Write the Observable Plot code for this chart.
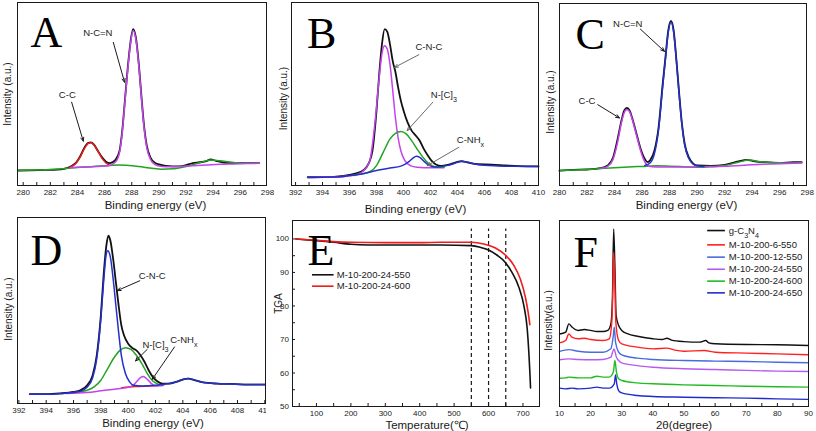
<!DOCTYPE html>
<html>
<head>
<meta charset="utf-8">
<script src="https://cdn.jsdelivr.net/npm/d3@7"></script>
<script src="https://cdn.jsdelivr.net/npm/@observablehq/plot@0.6"></script>
<style>
  html, body { margin: 0; padding: 0; background: white; }
  #fig { position: relative; width: 816px; height: 431px; overflow: hidden; background: white; }
  #fig svg { position: absolute; }
</style>
</head>
<body>
<div id="fig"></div>
<script>
// ---------------- DATA ----------------
// Panel A: C 1s XPS (x: binding energy eV, y: relative intensity 0-100 of frame)
const aRaw = [[279.6,8.2],[280.5,8.3],[281.5,8.5],[282.5,8.7],[283.0,9.1],[283.5,10.4],[283.9,12.5],[284.2,16],[284.5,20.5],[284.8,23.3],[285.0,23.6],[285.2,22.5],[285.5,19],[285.8,15.5],[286.1,13],[286.4,12.2],[286.8,14],[287.1,19],[287.3,30],[287.5,47],[287.7,64],[287.9,78],[288.1,85.5],[288.3,81],[288.5,68],[288.7,50],[288.9,33],[289.1,22],[289.4,15],[289.7,12.5],[290.0,11.5],[290.5,10.7],[291.0,10.5],[291.5,10.5],[292.0,11.1],[292.5,12.2],[293.0,12.7],[293.5,13.3],[293.8,14.2],[294.2,13.5],[294.8,12.5],[295.5,12.2],[296.5,12.4],[297.4,12.2]];
const aFitNCN = [[283.5,9.9],[284.5,10.1],[285.5,10.4],[286.3,10.8],[286.8,12.8],[287.1,18],[287.3,29],[287.5,46],[287.7,63],[287.9,77],[288.1,84.5],[288.3,80],[288.5,67],[288.7,49],[288.9,32],[289.1,21],[289.4,14],[289.7,11.5],[290.0,10.6],[290.5,10.2],[291.5,10.4],[292.5,10.8],[293.5,11.2],[294.5,11.6],[295.5,11.8],[296.5,12],[297.4,12.1]];
const aFitCC = [[283.4,9.7],[283.8,11.5],[284.2,15.5],[284.5,20],[284.8,23],[285.0,23.4],[285.2,22.3],[285.5,18.8],[285.8,15],[286.1,12.3],[286.4,11]];
const aBase = [[279.6,8.2],[281,8.5],[283,9.2],[284,9.8],[285,10.3],[286,10.8],[287,11.2],[287.6,11],[288.5,10.4],[289.5,9.4],[290.2,8.9],[291,9.1],[292,10.4],[293,12.4],[293.8,14],[294.5,13.5],[295.5,12.6],[296.5,12.3],[297.4,12.2]];
const aLabels = [{t:"C-C", x:283.25, y:49.5}, {t:"N-C=N", x:285.5, y:83.3}];
const aArrows = [{x1:283.57,y1:45.5,x2:284.43,y2:24.2}, {x1:286.64,y1:78.2,x2:287.47,y2:56.4}];

// Panel B: N 1s XPS
const bRaw = [[392.9,4.5],[394,4.6],[395,4.9],[396,5.8],[396.5,6.6],[397.0,8.2],[397.4,11.8],[397.7,19],[398.0,41],[398.2,61],[398.4,77],[398.6,85.5],[398.8,84],[399.0,77],[399.2,68],[399.4,62],[399.6,53.6],[399.8,46.4],[400.0,41],[400.3,34.5],[400.6,30],[400.9,27.3],[401.2,24.5],[401.5,20],[401.8,16.4],[402.1,13.3],[402.4,11.5],[402.8,10.7],[403.3,11.3],[403.8,12.4],[404.3,13.3],[404.8,12.5],[405.5,11.6],[406.5,11.4],[407.5,11],[408.5,10.6],[410,10.4]];
const bCNC = [[392.9,4.4],[395,4.6],[396,5.3],[396.5,6],[397.0,7.8],[397.5,13.6],[397.9,35.5],[398.2,59],[398.4,72],[398.6,76.4],[398.8,74.5],[399.0,66],[399.2,52],[399.4,37],[399.6,26],[399.8,19],[400.1,13.6],[400.5,10.9],[401,10],[402,9.7],[403,9.7]];
const bNC3 = [[396.3,5.5],[397.0,6.5],[397.5,7.5],[398,10.9],[398.5,18.2],[399,25.5],[399.4,28.5],[399.8,29.5],[400.2,28.2],[400.6,24.5],[401,20],[401.4,15.8],[401.8,12.4],[402.2,10.5],[402.6,10],[403,10]];
const bCNH = [[392.9,4.5],[395,4.7],[396,5.4],[397,6.4],[398,8.2],[399,9.6],[399.8,10.6],[400.1,11.5],[400.4,13],[400.7,15],[400.95,16],[401.2,15.4],[401.5,13.3],[401.9,11],[402.3,10.1],[402.8,10.4],[403.3,11],[403.8,12.2],[404.3,13.1],[404.7,12.8],[405.2,11.9],[406,11],[407,10.7],[408,10.5],[410,10.4]];
const bLabels = [{t:"C-N-C", x:401.88, y:75.5}, {t:"N-[C]_3", x:402.99, y:49.5}, {t:"C-NH_x", x:404.96, y:25.1}];
const bArrows = [{x1:401.14,y1:71.5,x2:399.33,y2:64.5}, {x1:402.17,y1:45.5,x2:400.27,y2:30}, {x1:404.1,y1:20.9,x2:401.75,y2:10.8}];

// Panel C: C 1s XPS
const cRaw = [[280,8.2],[281,8.6],[282,8.8],[283,9.5],[283.5,11],[283.9,15.5],[284.2,24.7],[284.5,35.6],[284.7,41.1],[284.9,42.6],[285.1,41.1],[285.3,36.6],[285.6,28.3],[285.9,20.1],[286.2,14.6],[286.4,12.8],[286.6,14],[286.9,19.2],[287.2,32],[287.5,55.8],[287.7,70.4],[287.9,85],[288.1,90.5],[288.3,85],[288.5,68.6],[288.7,50.3],[288.9,33.8],[289.1,22.9],[289.4,15.5],[289.7,12.2],[290,11],[291,10.8],[292,11.3],[293,13.2],[293.6,14.1],[294.2,13.3],[295,12.8],[296,12.4],[297,12.8],[297.6,12.8]];
const cCC = [[283.0,9.3],[283.5,10.5],[283.9,14.5],[284.2,23],[284.5,34.5],[284.7,40],[284.9,41.8],[285.1,40.5],[285.3,36],[285.6,27.5],[285.9,19],[286.2,13],[286.5,10.6],[287,10.2],[288,10.1],[289,10.1],[290,10.3],[292,10.6],[294,11.4],[296,12],[297.6,12.3]];
const cNCN = [[286.2,11],[286.6,12.5],[286.9,17.5],[287.2,30.5],[287.5,54.5],[287.7,69.5],[287.9,84],[288.1,89.7],[288.3,84],[288.5,68],[288.7,49.5],[288.9,33],[289.1,22],[289.4,14.8],[289.7,11.8],[290,10.8],[290.5,10.4]];
const cBase = [[280,8.2],[282,8.8],[283,9.3],[284,9.8],[285,10.2],[286,10.5],[287,10.8],[288,10.6],[289,10.3],[290,10.0],[291,10.3],[292,11],[293,12.8],[293.8,14],[294.6,13.1],[295.5,12.6],[296.5,12.4],[297.6,12.5]];
const cLabels = [{t:"N-C=N", x:284.96, y:88.7}, {t:"C-C", x:282.0, y:46.6}];
const cArrows = [{x1:285.88,y1:85.9,x2:287.63,y2:73.7}, {x1:282.78,y1:44.4,x2:284.36,y2:37.1}];

// Panel D: N 1s XPS
const dRaw = [[392.8,5],[394,5],[395,5.4],[396,6.2],[396.5,7.1],[397,9.8],[397.4,15.2],[397.7,25.9],[398.0,47.3],[398.2,68.8],[398.4,84.8],[398.55,90.2],[398.7,87.5],[398.9,77.7],[399.1,65.2],[399.3,52.7],[399.5,42],[399.7,36.6],[400.0,32.1],[400.3,29.8],[400.6,28.6],[400.9,25.9],[401.2,22.3],[401.5,17.9],[401.8,14.3],[402.1,12.1],[402.5,10.7],[403,10.7],[403.5,11.6],[404,12.9],[404.4,13.4],[404.8,12.7],[405.5,11.3],[406.5,10.7],[407.5,10.5],[408.5,10.2],[410,10.2]];
const dCNC = [[392.8,5],[394,5],[395,5.3],[396,5.9],[396.5,6.6],[397,8.9],[397.4,13.8],[397.7,24.1],[398.0,45.5],[398.2,65.2],[398.4,80.4],[398.5,82.1],[398.7,78.6],[398.9,67],[399.1,52.7],[399.3,38.4],[399.5,25.9],[399.8,16.1],[400.1,11.6],[400.4,9.8],[401,9.4],[401.5,9.6],[402,9.8],[402.5,10.2],[403,10.7],[403.5,11.6],[404,12.9],[404.4,13.4],[404.8,12.7],[405.5,11.3],[406.5,10.7],[407.5,10.5],[408.5,10.2],[410,10.2]];
const dNC3 = [[396,5.9],[397,7.1],[397.5,8.9],[398,12.5],[398.5,18.8],[399,25],[399.4,28.6],[399.8,30],[400.2,29.1],[400.6,25.9],[401,21.4],[401.4,16.1],[401.8,12.1],[402.2,10.4],[402.6,9.8]];
const dCNH = [[395.5,5.4],[397,5.9],[398,6.8],[399,7.7],[399.8,8.4],[400.3,9.5],[400.6,11.6],[400.9,13.9],[401.1,14.5],[401.4,13],[401.7,10.7],[402,9.6],[402.5,9.5]];
const dRed = [[399.5,8.4],[400.5,9.1],[401.5,9.4],[402.2,9.6]];
const dLabels = [{t:"C-N-C", x:401.76, y:68.75}, {t:"N-[C]_3", x:402.0, y:31.25}, {t:"C-NH_x", x:404.07, y:33.9}];
const dArrows = [{x1:400.85,y1:66,x2:399.2,y2:60.7}, {x1:401.39,y1:29.1,x2:400.54,y2:22.9}, {x1:403.39,y1:30.4,x2:401.76,y2:13}];

// Panel E: TGA (x: temperature °C, y: TGA %)
const eSeriesNames = ["M-10-200-24-550", "M-10-200-24-600"];
const e550 = [[40,100],[100,99.5],[150,99],[200,98.4],[250,98.2],[300,98.2],[400,98.2],[460,98.2],[550,98],[576,97.5],[600,96.7],[624,95.2],[648.7,93],[668,90],[688,85.6],[702.6,80.1],[712.3,73.2],[717,66.2],[720,60.2],[722,55.5]];
const e600 = [[40,100],[100,99.6],[150,99.2],[200,99],[300,98.9],[400,98.9],[460,99],[550,99],[586,98.5],[620,97.3],[648.7,95.2],[673,92.2],[692,88.1],[707,82.6],[715,78.1],[720,74.4]];
const eMarkers = [550, 600, 650];
const eXTicks = [100, 200, 300, 400, 500, 600, 700];
const eYTicks = [50, 60, 70, 80, 90, 100];

// Panel F: XRD (x: 2θ degree, y: relative intensity, offset stack)
const fNames = ["g-C_3N_4", "M-10-200-6-550", "M-10-200-12-550", "M-10-200-24-550", "M-10-200-24-600", "M-10-200-24-650"];
const fG = [[10,39],[12,40],[13,44.4],[14,42.7],[16,40.9],[18,41.4],[20,40.9],[22,40.3],[24,40.3],[25.5,40.9],[26.5,44.4],[27.0,57.9],[27.4,95.5],[27.8,75.8],[28.2,48.9],[29,43.5],[30,40.9],[32,39],[35,37.8],[40,36.4],[43,36],[44.5,36.7],[46,35.7],[50,34.9],[55,34.6],[57,35.5],[58,34.2],[60,33.7],[70,33.3],[80,33.2],[90,32.8]];
const f6 = [[10,34.2],[12,35.5],[13,39],[14,37.3],[16,36.4],[18,36.7],[20,36],[24,35.5],[26,36.4],[26.8,45.3],[27.2,66.8],[27.4,83],[27.7,72.2],[28.1,45.3],[29,35.5],[30,33.7],[35,31.9],[40,31],[44.5,31.4],[47,30.3],[50,29.7],[56.5,30.1],[60,29.2],[70,28.7],[80,28.3],[90,27.8]];
const f12 = [[10,29.6],[13,30.6],[16,29.7],[20,29.2],[24,29.2],[26.5,31],[27.3,38.2],[27.6,42.7],[28,34.6],[29,29.2],[30,27.8],[35,26],[40,25.3],[50,24.7],[60,24.4],[70,24.2],[80,23.8],[90,23.5]];
const f24 = [[10,25.1],[13,25.6],[16,25.3],[20,25.1],[24,25.3],[26.5,26.5],[27.5,31],[28.3,26.5],[29,24.7],[30,23.5],[35,22],[40,21.1],[50,20.3],[60,19.9],[70,19.4],[80,19],[90,18.8]];
const f600 = [[10,15.2],[12,15.4],[13,15.8],[16,15.4],[20,15.4],[22,16.3],[24,15.8],[26,15.8],[27.3,18.5],[27.8,24.7],[28.3,18.5],[29,14.9],[30,14],[35,12.7],[40,12.2],[50,11.6],[60,11.3],[70,10.9],[80,10.6],[90,10.4]];
const f650 = [[10,9.9],[12,9.5],[14,9.9],[16,9.5],[20,9.9],[22,10.4],[24,9.9],[26,9.9],[27.6,12.2],[28,17],[28.4,12.2],[29,8.6],[30,7.3],[35,5.9],[40,5.4],[50,5],[60,4.7],[70,4.5],[80,4.1],[90,3.8]];
const fSeries = [fG, f6, f12, f24, f600, f650];
const fXTicks = [10, 20, 30, 40, 50, 60, 70, 80, 90];

const xpsTicks = d3.range(280, 299, 2);
const xpsTicksN = d3.range(392, 411, 2);

// ---------------- STYLE / LAYOUT ----------------
const FONT = "'Liberation Sans', Arial, Helvetica, sans-serif";
const SERIF = "'Liberation Serif', 'Times New Roman', serif";
const INK = "#1a1a1a";
const COL = {black:"#111111", magenta:"#c443ec", red:"#ee1c1c", green:"#22a322", blue:"#2430cc",
             fRed:"#ff2020", fLBlue:"#4a6be0", fViolet:"#b65af0", fGreen:"#22bb22", fDBlue:"#1f2ccc"};
const fColors = [COL.black, COL.fRed, COL.fLBlue, COL.fViolet, COL.fGreen, COL.fDBlue];

const fig = document.getElementById("fig");

function line(data, stroke, sw = 1.5) {
  return Plot.line(data, {x: d => d[0], y: d => d[1], stroke, strokeWidth: sw, curve: "monotone-x"});
}
function subs(svg) {
  svg.querySelectorAll("text, tspan").forEach(el => {
    if (el.children.length) return;
    const s = el.textContent;
    if (!s.includes("_")) return;
    el.textContent = "";
    const re = /_(\w)/g; let last = 0, m;
    while ((m = re.exec(s))) {
      el.appendChild(document.createTextNode(s.slice(last, m.index)));
      const ts = document.createElementNS("http://www.w3.org/2000/svg", "tspan");
      ts.setAttribute("baseline-shift", "sub");
      ts.setAttribute("font-size", "75%");
      ts.textContent = m[1];
      el.appendChild(ts);
      last = re.lastIndex;
    }
    el.appendChild(document.createTextNode(s.slice(last)));
  });
}

function panel(cfg) {
  const [mt, mr, mb, ml] = cfg.m;
  const pw = cfg.w - ml - mr, ph = cfg.h - mt - mb;
  const xd = cfg.xd, yd = cfg.yd;
  const tickLen = 3;
  const marks = [];
  marks.push(...cfg.marks);
  // inward ticks
  marks.push(Plot.ruleX(cfg.minorX, {x: d => d, y1: yd[0], y2: yd[0] + (yd[1] - yd[0]) * tickLen / ph, stroke: INK, strokeWidth: 1}));
  if (cfg.minorY) marks.push(Plot.ruleY(cfg.minorY, {y: d => d, x1: xd[0], x2: xd[0] + (xd[1] - xd[0]) * tickLen / pw, stroke: INK, strokeWidth: 1}));
  marks.push(Plot.frame({stroke: INK, strokeWidth: 1}));
  marks.push(Plot.axisX(cfg.xTicks, {tickSize: 0, tickPadding: 4, fontSize: 8, label: null, tickFormat: d => String(d), fill: INK}));
  if (cfg.yTicks) marks.push(Plot.axisY(cfg.yTicks, {tickSize: 0, tickPadding: 3.5, fontSize: 8, label: null, tickFormat: d => String(d), fill: INK}));
  // axis titles
  marks.push(Plot.text([cfg.xTitle], {frameAnchor: "bottom", dx: cfg.xt[0], dy: cfg.xt[1], lineAnchor: "middle", fontSize: 11.5, fill: INK}));
  marks.push(Plot.text([cfg.yTitle], {frameAnchor: "left", dx: cfg.yt[0], dy: cfg.yt[1], rotate: -90, lineAnchor: "middle", textAnchor: "middle", fontSize: 10, fill: INK}));
  // panel letter
  marks.push(Plot.text([cfg.letter], {frameAnchor: "top-left", dx: cfg.lt[0], dy: cfg.lt[1], textAnchor: "start", lineAnchor: "top", fontSize: 44, fontFamily: SERIF, fill: "#000"}));
  const svg = Plot.plot({
    width: cfg.w, height: cfg.h,
    marginTop: mt, marginRight: mr, marginBottom: mb, marginLeft: ml,
    x: {domain: xd, axis: null},
    y: {domain: yd, axis: null},
    style: {fontFamily: FONT, fontSize: "8px", background: cfg.bg || "transparent", overflow: "visible", color: INK},
    marks
  });
  svg.style.left = cfg.left + "px";
  svg.style.top = cfg.top + "px";
  subs(svg);
  fig.appendChild(svg);
}

function annot(labels, arrows, arrowColor) {
  return [
    Plot.arrow(arrows, {x1: "x1", y1: "y1", x2: "x2", y2: "y2", stroke: arrowColor, strokeWidth: 1, headLength: 6, headAngle: 45}),
    Plot.text(labels, {x: "x", y: "y", text: "t", fontSize: 9.5, fill: INK})
  ];
}

const BE = "Binding energy (eV)";
const INT = "Intensity (a.u.)";

// A
panel({left: 0, top: 0, w: 272, h: 215, m: [2, 6, 30, 17], xd: [279.58, 297.93], yd: [0, 100],
  marks: [line(aRaw, COL.black, 1.8), line(aBase, COL.green), line(aFitCC, COL.red), line(aFitNCN, COL.magenta), ...annot(aLabels, aArrows, INK)],
  minorX: d3.range(280, 298), xTicks: xpsTicks, xTitle: BE, xt: [13.5, 19.5], yTitle: INT, yt: [-9.5, 0], letter: "A", lt: [13, 13]});
// B
panel({left: 272, top: 0, w: 274, h: 215, m: [2, 8, 30, 19], xd: [391.7, 410], yd: [0, 100],
  marks: [line(bRaw, COL.black, 1.8), line(bCNC, COL.magenta), line(bNC3, COL.green), line(bCNH, COL.blue), ...annot(bLabels, bArrows, "#6a6a6a")],
  minorX: d3.range(392, 411), xTicks: xpsTicksN, xTitle: BE, xt: [0.5, 24], yTitle: INT, yt: [-8, 4.5], letter: "B", lt: [15.5, 14]});
// C
panel({left: 546, top: 0, w: 270, h: 215, m: [3, 10, 30, 13], xd: [280, 297.95], yd: [0, 100],
  marks: [line(cRaw, COL.black, 1.8), line(cBase, COL.green), line(cCC, COL.magenta), line(cNCN, COL.blue), ...annot(cLabels, cArrows, INK)],
  minorX: d3.range(280, 298), xTicks: xpsTicks, xTitle: BE, xt: [3.5, 19.5], yTitle: INT, yt: [-8.3, 7.5], letter: "C", lt: [16, 14]});
// D
panel({left: 0, top: 215, w: 266, h: 216, m: [2, 1, 28, 17], xd: [391.9, 410.05], yd: [0, 100],
  marks: [line(dRaw, COL.black, 1.8), line(dRed, COL.red), line(dNC3, COL.green), line(dCNH, COL.magenta), line(dCNC, COL.blue), ...annot(dLabels, dArrows, INK)],
  minorX: d3.range(392, 411), xTicks: xpsTicksN, xTitle: BE, xt: [11.5, 19.5], yTitle: INT, yt: [-8.7, -1.5], letter: "D", lt: [13, 16]});
// E (white background hides the clipped end of D's last tick label, as in the original)
panel({left: 266, top: 216, w: 280, h: 215, m: [4, 7, 25, 26], xd: [30.4, 748], yd: [50, 105.5], bg: "white",
  marks: [
    Plot.ruleX(eMarkers, {x: d => d, y1: 50, y2: 103, stroke: INK, strokeWidth: 1.2, strokeDasharray: "4,3"}),
    line(e550, COL.black, 1.6), line(e600, COL.red, 1.6),
    Plot.ruleY([89.3], {y: d => d, x1: 88.4, x2: 151.2, stroke: COL.black, strokeWidth: 1.6}),
    Plot.ruleY([85.9], {y: d => d, x1: 88.4, x2: 151.2, stroke: COL.red, strokeWidth: 1.6}),
    Plot.text([eSeriesNames[0]], {x: 159, y: 89.3, textAnchor: "start", fontSize: 9.5, fill: INK}),
    Plot.text([eSeriesNames[1]], {x: 159, y: 85.9, textAnchor: "start", fontSize: 9.5, fill: INK})
  ],
  minorX: d3.range(50, 701, 50), minorY: d3.range(55, 105, 5), xTicks: eXTicks, yTicks: eYTicks,
  xTitle: "Temperature(℃)", xt: [11, 18.5], yTitle: "TGA", yt: [-14, -10], letter: "E", lt: [15, 13]});
// F
const fLegendY = [94.6, 86.9, 80.3, 73.8, 67.4, 61.1];
const fMarks = [];
fSeries.forEach((s, i) => fMarks.push(line(s, fColors[i], 1.4)));
fNames.forEach((n, i) => {
  fMarks.push(Plot.ruleY([fLegendY[i]], {y: d => d, x1: 57.6, x2: 63.3, stroke: fColors[i], strokeWidth: 1.6}));
  fMarks.push(Plot.text([n], {x: 64.4, y: fLegendY[i], textAnchor: "start", fontSize: 9.5, fill: INK}));
});
panel({left: 546, top: 215, w: 270, h: 216, m: [5, 8, 25, 13], xd: [10, 90], yd: [0, 100],
  marks: fMarks, minorX: d3.range(15, 90, 5), xTicks: fXTicks,
  xTitle: "2θ(degree)", xt: [0, 18.5], yTitle: "Intensity(a.u.)", yt: [-11, 7], letter: "F", lt: [14, 15]});
</script>
</body>
</html>
